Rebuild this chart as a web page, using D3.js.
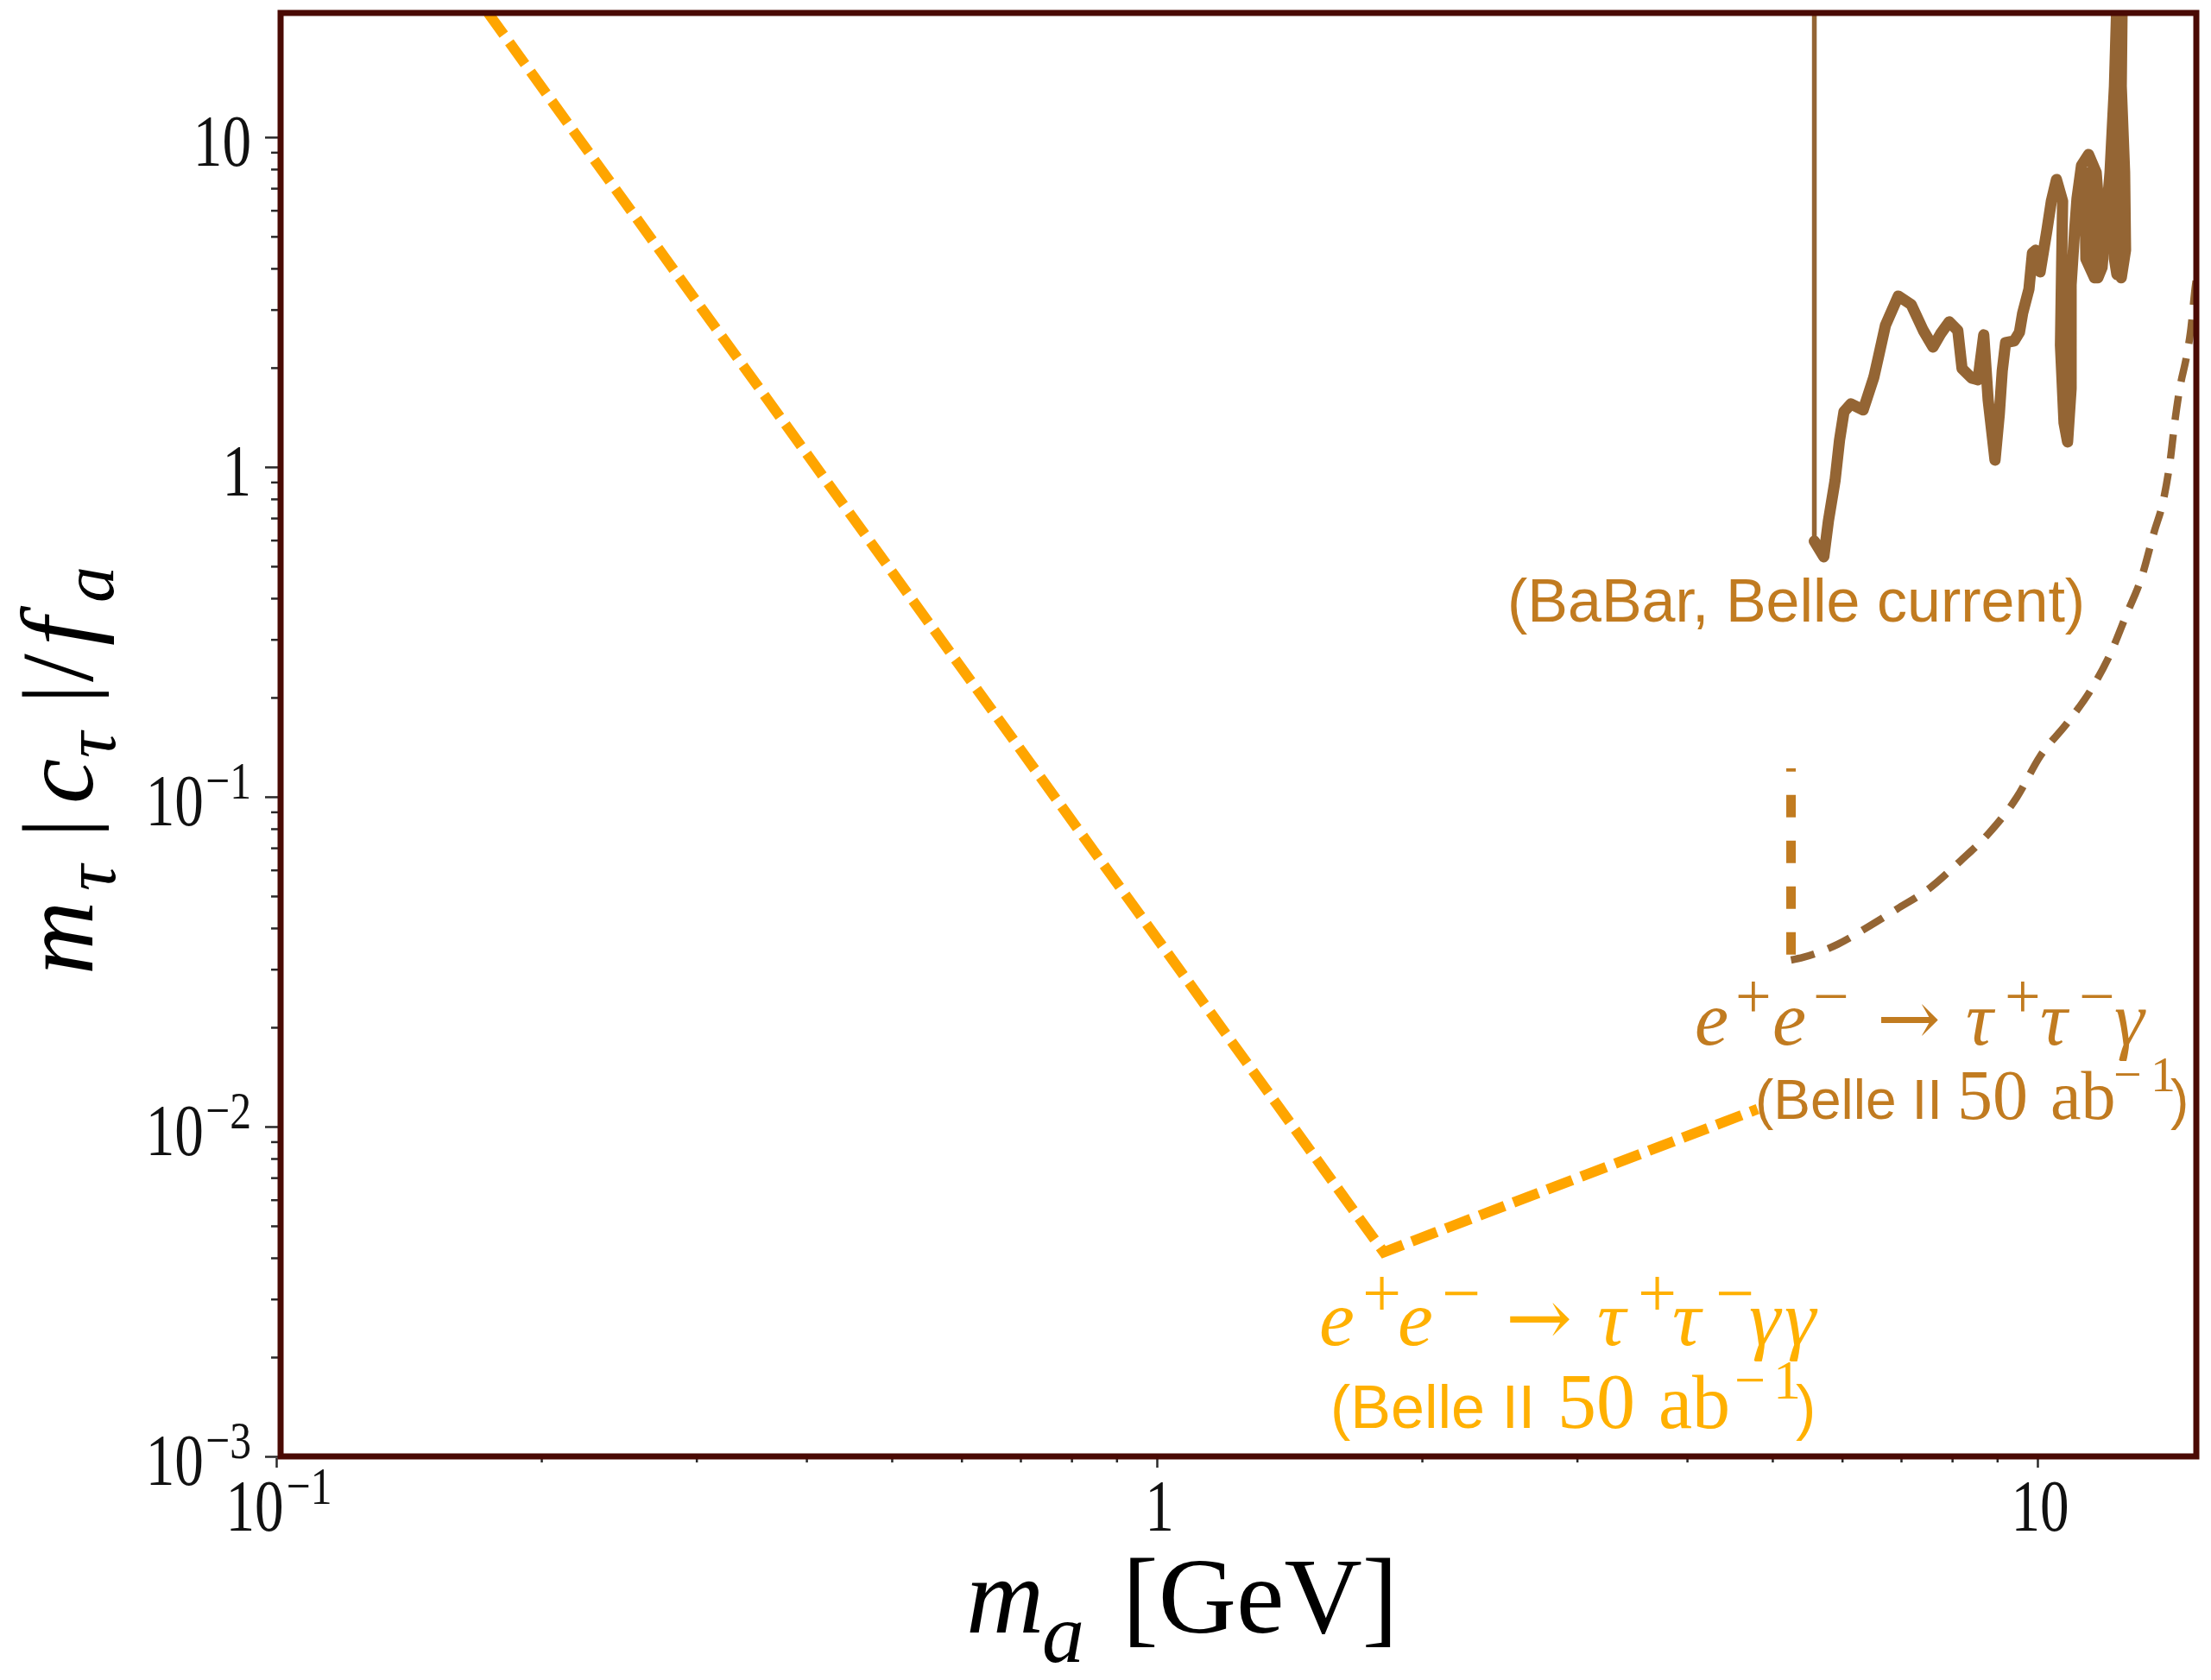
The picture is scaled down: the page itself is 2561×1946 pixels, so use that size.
<!DOCTYPE html>
<html>
<head>
<meta charset="utf-8">
<script src="https://cdn.jsdelivr.net/npm/d3@7"></script>
<style>
  html, body { margin: 0; padding: 0; background: #ffffff; }
  svg { display: block; }
</style>
</head>
<body>
<script>
// ---- axis ticks ----------------------------------------------------------
const xMajorTicks = [0.1, 1, 10];
const xTickBase = ["10", "1", "10"];
const xTickExp = ["\u22121", "", ""];
const yMajorTicks = [0.001, 0.01, 0.1, 1, 10];
const yTickBase = ["10", "10", "10", "1", "10"];
const yTickExp = ["\u22123", "\u22122", "\u22121", "", ""];

// ---- Belle II 50 ab^-1 projection, e+e- -> tau+ tau- gamma gamma ----------
const diphotonMass = [0.174, 1.81, 4.81];
const diphotonCoupling = [23.8, 0.00416, 0.0113];

// ---- Belle II 50 ab^-1 projection, e+e- -> tau+ tau- gamma ---------------
const photonEdgeMass = [5.25, 5.25];
const photonEdgeCoupling = [0.0332, 0.122];
const photonMass = [5.25, 5.42, 5.93, 6.44, 6.93, 7.52, 8.16, 8.81, 9.47, 10.07, 10.82, 11.50,
  12.12, 12.62, 13.12, 13.57, 13.91, 14.16, 14.32, 14.49, 14.78, 14.92, 15.12, 15.29];
const photonCoupling = [0.0320, 0.0326, 0.0357, 0.0405, 0.0457, 0.0525, 0.0636, 0.0776, 0.0994,
  0.1327, 0.168, 0.211, 0.274, 0.357, 0.460, 0.636, 0.800, 1.062, 1.368, 1.700, 2.190, 2.561,
  3.568, 4.275];

// ---- current limit (BaBar, Belle) ----------------------------------------
const currentEdgeMass = [5.58, 5.58];
const currentEdgeCoupling = [24, 0.5955];
const currentMass = [5.58, 5.72, 5.79, 5.89, 5.96, 6.03, 6.14, 6.34, 6.41, 6.52, 6.60, 6.72,
  6.95, 7.19, 7.42, 7.61, 7.76, 7.94, 8.12, 8.21, 8.42, 8.56, 8.69, 8.79, 8.95, 9.05, 9.12,
  9.20, 9.41, 9.54, 9.62, 9.78, 9.87, 9.95, 10.07, 10.25, 10.37, 10.51, 10.68, 10.62, 10.72,
  10.82, 10.92, 10.92, 11.02, 11.09, 11.22, 11.43, 11.66, 11.74, 11.69, 11.61,
  11.35, 11.32, 11.45, 11.48, 11.71,
  11.84, 12.09, 12.23, 12.31, 12.36, 12.31, 12.25, 12.23, 12.31, 12.42, 12.42, 12.40, 12.42,
  12.48, 12.45, 12.56, 12.59, 12.45];
const currentCoupling = [0.5955, 0.534, 0.688, 0.908, 1.206, 1.471, 1.553, 1.489, 1.629, 1.872,
  2.164, 2.688, 3.298, 3.105, 2.592, 2.311, 2.530, 2.754, 2.592, 1.988, 1.860, 1.838, 2.515,
  1.600, 1.049, 1.444, 1.953, 2.382, 2.411, 2.561, 2.924, 3.462, 4.459, 4.541, 3.905, 5.215,
  6.40, 7.44, 6.40, 2.339, 1.360, 1.191, 1.730, 3.568, 5.184, 6.52, 8.20, 8.86, 7.81, 6.14,
  4.275, 3.744,
  4.275, 7.35, 7.81, 4.025, 3.744,
  4.025, 7.81, 14.27, 26.1, 26.1, 14.27, 7.81, 4.275, 3.835, 4.541, 7.81, 14.27, 26.1,
  26.1, 14.27, 7.81, 4.541, 3.744];

// ---- drawing -------------------------------------------------------------
const W = 2561, H = 1946;
const SERIF = '"Liberation Serif", "DejaVu Serif", serif';
const SANS = '"Liberation Sans", Arial, Helvetica, sans-serif';
const ARROW = '"DejaVu Serif", "Liberation Serif", serif';
const ORANGE_LINE = "#ffa500", ORANGE_TEXT = "#ffb000";
const BROWN_LINE = "#946534", BROWN_TEXT = "#c17b20";
const FRAME = "#4a0a04";

const x = d3.scaleLog().domain([0.1, 15.15]).range([320, 2544]);
const y = d3.scaleLog().domain([0.001, 23.8]).range([1687, 15]);

const svg = d3.select("body").append("svg").attr("width", W).attr("height", H);
svg.append("rect").attr("width", W).attr("height", H).attr("fill", "#ffffff");

svg.append("defs").append("clipPath").attr("id", "plotArea")
  .append("rect").attr("x", 325).attr("y", 15).attr("width", 2219).attr("height", 1672);

const zip = (xs, ys) => xs.map((v, i) => [v, ys[i]]);
const line = d3.line().x(d => x(d[0])).y(d => y(d[1]));
const smooth = d3.line().x(d => x(d[0])).y(d => y(d[1])).curve(d3.curveMonotoneX);

// minor ticks: 2..9 in every decade
function minors(lo, hi) {
  const out = [];
  for (let d = lo; d < hi; d *= 10) for (let k = 2; k <= 9; k++) out.push(+(d * k).toPrecision(3));
  return out;
}

const axes = svg.append("g");
const xAxisG = axes.append("g").attr("transform", "translate(0,1689)");
xAxisG.call(d3.axisBottom(x).tickValues(xMajorTicks).tickSize(11).tickFormat(""));
xAxisG.append("g").call(d3.axisBottom(x).tickValues(minors(0.1, 10)).tickSize(5).tickFormat(""));
const yAxisG = axes.append("g").attr("transform", "translate(322,0)");
yAxisG.call(d3.axisLeft(y).tickValues(yMajorTicks).tickSize(15).tickFormat(""));
yAxisG.append("g").call(d3.axisLeft(y).tickValues(minors(0.001, 10)).tickSize(8).tickFormat(""));
svg.selectAll(".domain").remove();
svg.selectAll(".tick line").attr("stroke", "#2a2a2a").attr("stroke-width", 2.5);

// one <text> made of positioned runs
function runs(g, parts, fill, transform) {
  const t = g.append("text").attr("fill", fill);
  if (transform) t.attr("transform", transform);
  parts.forEach(p => {
    const s = t.append("tspan")
      .style("font-family", p.family || SERIF)
      .style("font-size", p.size + "px")
      .style("font-style", p.italic ? "italic" : "normal")
      .text(p.text);
    if (p.x !== undefined) s.attr("x", p.x);
    if (p.y !== undefined) s.attr("y", p.y);
    if (p.dx !== undefined) s.attr("dx", p.dx);
    if (p.dy !== undefined) s.attr("dy", p.dy);
  });
  return t;
}

// tick labels (narrow serif digits)
const tl = svg.append("g");
yMajorTicks.forEach((v, i) => {
  const parts = [{ text: yTickBase[i], size: 84 }];
  if (yTickExp[i]) parts.push({ text: yTickExp[i], size: 62, dx: 3, dy: -31 });
  runs(tl, parts, "#111", `translate(291,${y(v) + 33}) scale(0.8,1)`).attr("text-anchor", "end");
});
xMajorTicks.forEach((v, i) => {
  const parts = [{ text: xTickBase[i], size: 84 }];
  if (xTickExp[i]) parts.push({ text: xTickExp[i], size: 62, dx: 4, dy: -31 });
  runs(tl, parts, "#111", `translate(${x(v) + 3},1773) scale(0.8,1)`).attr("text-anchor", "middle");
});

// axis titles
runs(svg, [
  { text: "m", x: 1119, y: 1891, size: 125, italic: true },
  { text: "a", x: 1207, y: 1925, size: 98, italic: true },
  { text: "[GeV]", x: 1300, y: 1891, size: 125 }
], "#000");

runs(svg, [
  { text: "m", x: -1129, y: 107, size: 118, italic: true },
  { text: "\u03c4", x: -1032, y: 133, size: 84, italic: true },
  { text: "|", x: -970, y: 103, size: 110 },
  { text: "c", x: -931, y: 107, size: 118, italic: true },
  { text: "\u03c4", x: -878, y: 133, size: 84, italic: true },
  { text: "|", x: -815, y: 103, size: 110 },
  { text: "/", x: -790, y: 107, size: 118 },
  { text: "f", x: -748, y: 107, size: 118, italic: true },
  { text: "a", x: -698, y: 131, size: 84, italic: true }
], "#000", "rotate(-90)");

// curves
const plot = svg.append("g").attr("clip-path", "url(#plotArea)").attr("fill", "none");

plot.append("path")
  .attr("d", line(zip(diphotonMass, diphotonCoupling)))
  .attr("stroke", ORANGE_LINE).attr("stroke-width", 12)
  .attr("stroke-dasharray", "31 11").attr("stroke-linejoin", "miter");

plot.append("path")
  .attr("d", line(zip(photonEdgeMass, photonEdgeCoupling)))
  .attr("stroke", BROWN_TEXT).attr("stroke-width", 11)
  .attr("stroke-dasharray", "26 27");

plot.append("path")
  .attr("d", smooth(zip(photonMass, photonCoupling)))
  .attr("stroke", BROWN_LINE).attr("stroke-width", 8.5)
  .attr("stroke-dasharray", "28 17");

plot.append("path")
  .attr("d", line(zip(currentEdgeMass, currentEdgeCoupling)))
  .attr("stroke", BROWN_LINE).attr("stroke-width", 5.5);

plot.append("path")
  .attr("d", line(zip(currentMass, currentCoupling)))
  .attr("stroke", BROWN_LINE).attr("stroke-width", 13)
  .attr("stroke-linejoin", "round").attr("stroke-linecap", "round");

// frame
svg.append("rect").attr("x", 325).attr("y", 15).attr("width", 2219).attr("height", 1672)
  .attr("fill", "none").attr("stroke", FRAME).attr("stroke-width", 7);

// annotations
const ann = svg.append("g");
runs(ann, [{ text: "(BaBar, Belle current)", x: 1746, y: 720, size: 70, family: SANS }], BROWN_TEXT);

const baseB = 1210, supB = 1179;
runs(ann, [
  { text: "e", x: 1963, y: baseB, size: 88, italic: true },
  { text: "+", x: 2010, y: supB, size: 74 },
  { text: "e", x: 2053, y: baseB, size: 88, italic: true },
  { text: "\u2212", x: 2100, y: supB, size: 74 },
  { text: "\u2192", x: 2174, y: baseB, size: 88, family: ARROW },
  { text: "\u03c4", x: 2277, y: baseB, size: 88, italic: true },
  { text: "+", x: 2322, y: supB, size: 74 },
  { text: "\u03c4", x: 2363, y: baseB, size: 88, italic: true },
  { text: "\u2212", x: 2408, y: supB, size: 74 },
  { text: "\u03b3", x: 2449, y: baseB, size: 88, italic: true },
  { text: "(Belle II", x: 2033, y: 1296, size: 64, family: SANS },
  { text: "50", x: 2267, y: 1296, size: 82 },
  { text: "ab", x: 2375, y: 1296, size: 80 },
  { text: "\u2212", x: 2448, y: 1264, size: 58 },
  { text: "1", x: 2491, y: 1264, size: 58 },
  { text: ")", x: 2514, y: 1296, size: 64, family: SANS }
], BROWN_TEXT);

const baseO = 1558, supO = 1525;
runs(ann, [
  { text: "e", x: 1528, y: baseO, size: 92, italic: true },
  { text: "+", x: 1578, y: supO, size: 80 },
  { text: "e", x: 1619, y: baseO, size: 92, italic: true },
  { text: "\u2212", x: 1670, y: supO, size: 80 },
  { text: "\u2192", x: 1744, y: baseO, size: 92, family: ARROW },
  { text: "\u03c4", x: 1850, y: baseO, size: 92, italic: true },
  { text: "+", x: 1897, y: supO, size: 80 },
  { text: "\u03c4", x: 1937, y: baseO, size: 92, italic: true },
  { text: "\u2212", x: 1987, y: supO, size: 80 },
  { text: "\u03b3", x: 2026, y: baseO, size: 92, italic: true },
  { text: "\u03b3", x: 2067, y: baseO, size: 92, italic: true },
  { text: "(Belle II", x: 1541, y: 1654, size: 70, family: SANS },
  { text: "50", x: 1804, y: 1654, size: 90 },
  { text: "ab", x: 1921, y: 1654, size: 88 },
  { text: "\u2212", x: 2009, y: 1620, size: 64 },
  { text: "1", x: 2054, y: 1620, size: 64 },
  { text: ")", x: 2080, y: 1654, size: 70, family: SANS }
], ORANGE_TEXT);
</script>
</body>
</html>
